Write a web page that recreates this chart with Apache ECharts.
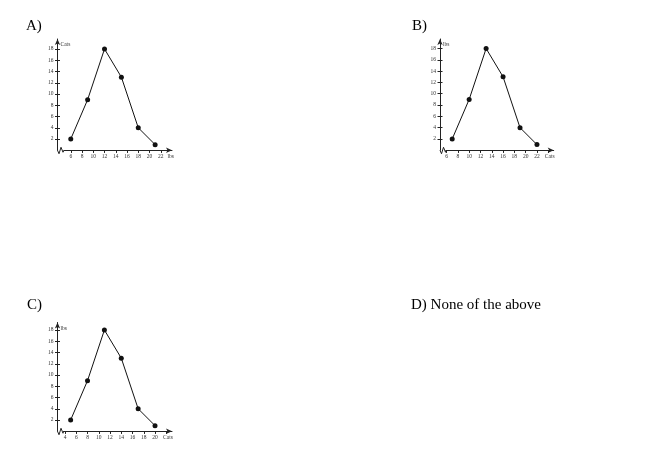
<!DOCTYPE html>
<html>
<head>
<meta charset="utf-8">
<script src="https://cdn.jsdelivr.net/npm/echarts@6/dist/echarts.min.js"></script>
<style>
  html, body { margin: 0; padding: 0; background: #fff; }
  #main { width: 650px; height: 451px; }
</style>
</head>
<body>
<div id="main"></div>
<script>
// values
var yValues = [2, 9, 18, 13, 4, 1];
var xA = [6, 9, 12, 15, 18, 21];
var xB = [7, 10, 13, 16, 19, 22];
var xC = [5, 8, 11, 14, 17, 20];

// ticks and tick labels
var xTicksA = [6, 8, 10, 12, 14, 16, 18, 20, 22];
var xLabelsA = [6, 8, 10, 12, 14, 16, 18, 20, 22];
var xTicksB = [6, 8, 10, 12, 14, 16, 18, 20, 22, 24];
var xLabelsB = [6, 8, 10, 12, 14, 16, 18, 20, 22];
var xTicksC = [4, 6, 8, 10, 12, 14, 16, 18, 20, 22];
var xLabelsC = [4, 6, 8, 10, 12, 14, 16, 18, 20];
var yTicks = [2, 4, 6, 8, 10, 12, 14, 16, 18];

var panels = [
  { title: 'A)', xName: 'lbs', yName: 'Cats', x: xA, xTicks: xTicksA, xLabels: xLabelsA,
    box: { left: 64, top: 39, width: 108, height: 111.25 }, xMin: 4.8, unit: 5.625, gap: 6.5, tpos: [26, 19] },
  { title: 'B)', xName: 'Cats', yName: 'lbs', x: xB, xTicks: xTicksB, xLabels: xLabelsB,
    box: { left: 446, top: 39, width: 107.7, height: 111.25 }, xMin: 5.9, unit: 5.65, gap: 6, tpos: [412, 19] },
  { title: 'C)', xName: 'Cats', yName: 'lbs', x: xC, xTicks: xTicksC, xLabels: xLabelsC,
    box: { left: 63.5, top: 322.5, width: 108.5, height: 108.75 }, xMin: 3.73, unit: 5.625, gap: 6, tpos: [27, 298] }
];

var ink = '#222';
var serif = 'Liberation Serif';
var small = { fontFamily: serif, fontSize: 5.5, color: '#333' };

var grids = [], xAxes = [], yAxes = [], series = [], titles = [];

panels.forEach(function (p, i) {
  var xMax = p.xMin + p.box.width / p.unit;
  var yMax = p.box.height / p.unit;
  grids.push({ left: p.box.left, top: p.box.top, width: p.box.width, height: p.box.height });

  xAxes.push({
    type: 'value', gridIndex: i, min: p.xMin, max: xMax,
    name: p.xName, nameLocation: 'end', nameGap: -4,
    nameTextStyle: { fontFamily: serif, fontSize: 5.5, color: '#333', align: 'center', verticalAlign: 'top', padding: [3, 0, 0, 0] },
    axisLine: { onZero: false, symbol: ['none', 'arrow'], symbolSize: [4, 6], lineStyle: { color: ink, width: 1 } },
    axisTick: { length: 2.5, customValues: p.xTicks, lineStyle: { color: ink } },
    axisLabel: Object.assign({ margin: 3, customValues: p.xLabels }, small),
    splitLine: { show: false }
  });
  xAxes.push({
    type: 'value', gridIndex: i, min: p.xMin, max: xMax,
    axisLine: { show: false }, axisLabel: { show: false }, splitLine: { show: false },
    axisTick: { inside: true, length: 2.5, customValues: p.xTicks, lineStyle: { color: ink } }
  });

  yAxes.push({
    type: 'value', gridIndex: i, min: 0, max: yMax, position: 'left', offset: p.gap,
    name: p.yName, nameLocation: 'end', nameGap: -6,
    nameTextStyle: { fontFamily: serif, fontSize: 5.5, color: '#333', align: 'left', verticalAlign: 'middle', padding: [0, 0, 0, 3] },
    axisLine: { onZero: false, symbol: ['none', 'arrow'], symbolSize: [4, 6], lineStyle: { color: ink, width: 1 } },
    axisTick: { length: 2.5, customValues: yTicks, lineStyle: { color: ink } },
    axisLabel: Object.assign({ margin: 4, customValues: yTicks }, small),
    splitLine: { show: false }
  });
  yAxes.push({
    type: 'value', gridIndex: i, min: 0, max: yMax, position: 'left', offset: p.gap,
    axisLine: { show: false }, axisLabel: { show: false }, splitLine: { show: false },
    axisTick: { inside: true, length: 2.5, customValues: yTicks, lineStyle: { color: ink } }
  });

  series.push({
    type: 'line', xAxisIndex: i * 2, yAxisIndex: i * 2,
    data: p.x.map(function (v, k) { return [v, yValues[k]]; }),
    symbol: 'circle', symbolSize: 5, clip: false,
    lineStyle: { color: '#111', width: 1 },
    itemStyle: { color: '#111' }
  });

  titles.push({ text: p.title, left: p.tpos[0], top: p.tpos[1], padding: 0,
    textStyle: { fontFamily: serif, fontSize: 15, fontWeight: 'normal', color: '#000' } });
});

titles.push({ text: 'D) None of the above', left: 411, top: 298, padding: 0,
  textStyle: { fontFamily: serif, fontSize: 15, fontWeight: 'normal', color: '#000' } });

var myChart = echarts.init(document.getElementById('main'));
myChart.setOption({
  animation: false,
  title: titles,
  grid: grids,
  xAxis: xAxes,
  yAxis: yAxes,
  series: series
});

// axis break zigzag at each origin
var breaks = panels.map(function (p, i) {
  var o = myChart.convertToPixel({ gridIndex: i }, [p.xMin, 0]);
  var ax = o[0] - p.gap;
  return {
    type: 'polyline', silent: true,
    shape: { points: [[ax, o[1]], [ax + 1.5, o[1] + 3.5], [ax + 3.5, o[1] - 3], [ax + 5.5, o[1] + 2], [o[0], o[1]]] },
    style: { stroke: ink, lineWidth: 1, fill: null }
  };
});
myChart.setOption({ graphic: breaks });
</script>
</body>
</html>
